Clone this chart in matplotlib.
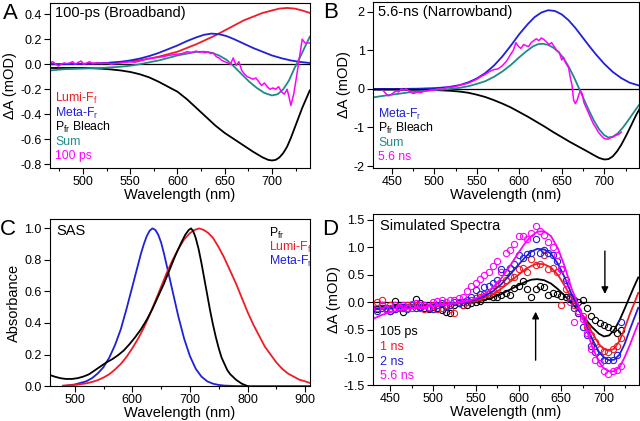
import numpy as np
import matplotlib
matplotlib.use("Agg")
import matplotlib.pyplot as plt

plt.rcParams['font.family'] = ['Liberation Sans', 'DejaVu Sans']
plt.rcParams['axes.unicode_minus'] = False
plt.rcParams['mathtext.fontset'] = 'custom'
plt.rcParams['mathtext.rm'] = 'Liberation Sans'

RED = '#ee1c24'
BLUE = '#2020d8'
TEAL = '#1f8a8a'
MAG = '#ff00ff'
BLK = 'black'

# ---- panel A: 100-ps (broadband) ----
a_lumi_nm = [465, 480, 500, 520, 540, 550, 560, 570, 580, 590, 600, 610, 620, 630, 640, 650, 660, 670,
             680, 690, 700, 708, 716, 724, 732, 740]
a_lumi = [0.0, 0.001, 0.003, 0.008, 0.015, 0.022, 0.032, 0.045, 0.06, 0.08, 0.1, 0.13, 0.16, 0.195, 0.23,
          0.27, 0.31, 0.35, 0.38, 0.41, 0.43, 0.445, 0.45, 0.445, 0.43, 0.41]
a_meta_nm = [465, 480, 500, 510, 520, 530, 540, 550, 560, 570, 580, 590, 600, 610, 620, 628, 636, 644,
             652, 660, 670, 680, 690, 700, 710, 720, 730, 740]
a_meta = [0.0, 0.0, 0.002, 0.004, 0.008, 0.013, 0.02, 0.03, 0.045, 0.065, 0.09, 0.12, 0.15, 0.185, 0.215,
          0.235, 0.245, 0.24, 0.225, 0.2, 0.165, 0.13, 0.1, 0.07, 0.048, 0.03, 0.018, 0.01]
a_pfr_nm = [465, 480, 500, 510, 520, 530, 540, 550, 560, 570, 580, 590, 600, 610, 620, 630, 640, 650, 660,
            670, 680, 690, 696, 700, 704, 708, 712, 716, 720, 724, 728, 732, 736, 740]
a_pfr = [-0.03, -0.03, -0.03, -0.032, -0.036, -0.042, -0.05, -0.062, -0.08, -0.105, -0.14, -0.18, -0.22,
         -0.28, -0.35, -0.42, -0.49, -0.55, -0.6, -0.65, -0.7, -0.745, -0.765, -0.77, -0.765, -0.745, -0.71,
         -0.66, -0.59, -0.51, -0.43, -0.35, -0.28, -0.21]
a_sum_nm = [465, 480, 500, 520, 540, 550, 560, 570, 580, 590, 600, 610, 620, 628, 636, 644, 652, 660, 668,
            676, 684, 692, 700, 706, 712, 718, 724, 730, 735, 740]
a_sum = [-0.05, -0.04, -0.035, -0.03, -0.02, -0.012, 0.0, 0.015, 0.03, 0.05, 0.07, 0.085, 0.098, 0.1, 0.092,
         0.07, 0.035, -0.02, -0.08, -0.14, -0.19, -0.23, -0.25, -0.24, -0.2, -0.13, -0.03, 0.06, 0.14, 0.22]
a_100ps_nm = [465, 468, 471, 474, 477, 480, 483, 486, 489, 492, 495, 498, 501, 504, 507, 510, 515, 520,
              525, 530, 535, 540, 545, 550, 555, 560, 565, 570, 575, 580, 585, 590, 595, 600, 605, 610,
              615, 620, 623, 626, 629, 632, 635, 638, 641, 644, 647, 650, 653, 656, 659, 662, 665, 668,
              671, 674, 677, 680, 683, 686, 689, 692, 695, 698, 701, 704, 707, 710, 713, 716, 718, 720,
              723, 726, 729, 732, 735, 738, 740]
a_100ps = [0.01, 0.02, 0.0, -0.015, 0.0, 0.01, 0.005, 0.01, 0.02, 0.0, 0.015, 0.025, 0.0, 0.01, 0.02, 0.005,
           0.01, 0.005, 0.01, 0.0, 0.005, 0.01, 0.015, 0.02, 0.015, 0.025, 0.035, 0.045, 0.05, 0.055, 0.06,
           0.07, 0.075, 0.08, 0.085, 0.1, 0.095, 0.105, 0.095, 0.1, 0.09, 0.1, 0.085, 0.09, 0.06, 0.05, 0.03,
           0.02, 0.01, 0.0, 0.05, -0.01, 0.02, -0.05, -0.08, -0.1, -0.11, -0.12, -0.11, -0.14, -0.17, -0.15,
           -0.18, -0.2, -0.19, -0.2, -0.18, -0.22, -0.24, -0.2, -0.26, -0.33, -0.24, -0.1, 0.05, 0.2, 0.17,
           0.17, 0.17]

# ---- panel B: 5.6-ns (narrowband) ----
b_meta_nm = [428, 460, 480, 500, 510, 520, 530, 540, 550, 560, 570, 580, 590, 600, 610, 618, 626, 634, 642,
             650, 658, 666, 674, 682, 690, 700, 710, 720, 730, 742]
b_meta = [0.0, 0.0, 0.005, 0.02, 0.035, 0.06, 0.1, 0.17, 0.27, 0.41, 0.6, 0.84, 1.12, 1.42, 1.68, 1.86,
          1.98, 2.04, 2.02, 1.93, 1.78, 1.58, 1.35, 1.12, 0.9, 0.65, 0.44, 0.28, 0.16, 0.08]
b_pfr_nm = [428, 460, 480, 500, 510, 520, 530, 540, 550, 560, 570, 580, 590, 600, 610, 620, 630, 640, 650,
            660, 670, 680, 688, 694, 700, 705, 710, 715, 720, 726, 732, 737, 742]
b_pfr = [-0.02, -0.02, -0.025, -0.03, -0.04, -0.05, -0.07, -0.1, -0.15, -0.21, -0.29, -0.38, -0.48, -0.6,
         -0.72, -0.85, -0.98, -1.12, -1.25, -1.38, -1.5, -1.62, -1.72, -1.79, -1.83, -1.82, -1.75, -1.62,
         -1.45, -1.2, -0.93, -0.7, -0.5]
b_sum_nm = [428, 440, 450, 460, 470, 480, 490, 500, 510, 520, 530, 540, 550, 560, 570, 580, 590, 600, 608,
            616, 622, 628, 634, 640, 646, 652, 658, 664, 670, 676, 682, 688, 694, 700, 705, 710, 716, 722,
            728, 735, 742]
b_sum = [-0.22, -0.18, -0.15, -0.12, -0.09, -0.07, -0.05, -0.03, -0.015, 0.0, 0.03, 0.07, 0.13, 0.2, 0.31,
         0.45, 0.62, 0.82, 0.97, 1.1, 1.16, 1.17, 1.14, 1.07, 0.96, 0.8, 0.58, 0.32, 0.03, -0.27, -0.56,
         -0.83, -1.05, -1.2, -1.26, -1.24, -1.15, -1.0, -0.82, -0.6, -0.38]
b_56ns_nm = [440, 443, 446, 449, 452, 455, 458, 461, 464, 467, 470, 473, 476, 480, 484, 488, 492, 496, 500,
             505, 510, 515, 520, 525, 530, 535, 540, 545, 550, 555, 560, 565, 570, 575, 580, 585, 590, 593,
             596, 599, 602, 605, 608, 611, 614, 617, 620, 623, 626, 629, 632, 635, 638, 641, 644, 647, 650,
             652, 654, 656, 658, 660, 662, 664, 666, 668, 670, 672, 674, 676, 678, 681, 684, 687, 690, 693,
             696, 699, 702, 705, 708, 711, 714, 717, 720]
b_56ns = [-0.05, -0.12, -0.18, -0.15, -0.1, -0.05, -0.08, 0.0, -0.03, 0.0, -0.05, -0.1, -0.12, -0.08, -0.1,
          -0.06, -0.05, -0.03, -0.03, 0.0, -0.02, 0.05, 0.04, 0.06, 0.1, 0.12, 0.15, 0.2, 0.25, 0.32, 0.38,
          0.45, 0.5, 0.52, 0.6, 0.72, 0.9, 1.0, 1.2, 1.1, 1.05, 1.15, 1.12, 1.1, 1.2, 1.25, 1.3, 1.25, 1.32,
          1.28, 1.22, 1.15, 1.2, 1.1, 1.0, 0.95, 0.75, 0.82, 0.7, 0.62, 0.55, 0.3, 0.1, -0.3, -0.38, -0.3,
          -0.15, -0.05, -0.12, -0.35, -0.45, -0.6, -0.75, -0.9, -1.0, -1.12, -1.2, -1.27, -1.3, -1.3, -1.26,
          -1.24, -1.2, -1.18, -1.12]

# ---- panel C: SAS ----
c_pfr_nm = [457, 465, 475, 485, 495, 505, 515, 525, 535, 545, 555, 565, 575, 585, 595, 605, 615, 625, 635,
            645, 655, 665, 675, 685, 692, 698, 702, 706, 710, 715, 720, 725, 730, 735, 740, 745, 750, 755,
            760, 765, 770, 780, 790, 800]
c_pfr = [0.07, 0.06, 0.05, 0.045, 0.045, 0.05, 0.06, 0.075, 0.1, 0.125, 0.15, 0.17, 0.195, 0.225, 0.265,
         0.31, 0.36, 0.42, 0.49, 0.57, 0.65, 0.74, 0.83, 0.91, 0.96, 0.99, 1.0, 0.98, 0.94, 0.87, 0.78, 0.68,
         0.58, 0.48, 0.39, 0.31, 0.24, 0.18, 0.14, 0.1, 0.075, 0.04, 0.015, 0.0]
c_lumi_nm = [480, 490, 500, 510, 520, 530, 540, 550, 560, 570, 580, 590, 600, 610, 620, 630, 640, 650, 660,
             670, 680, 690, 700, 708, 716, 724, 732, 740, 750, 760, 770, 780, 790, 800, 810, 820, 830, 840,
             850, 860, 870, 880, 890, 900, 908]
c_lumi = [0.003, 0.005, 0.007, 0.012, 0.017, 0.026, 0.037, 0.054, 0.075, 0.105, 0.14, 0.185, 0.24, 0.3,
          0.37, 0.45, 0.54, 0.63, 0.72, 0.8, 0.87, 0.93, 0.97, 0.99, 1.0, 0.99, 0.97, 0.94, 0.88, 0.81, 0.73,
          0.65, 0.56, 0.47, 0.39, 0.32, 0.25, 0.2, 0.15, 0.11, 0.08, 0.06, 0.04, 0.03, 0.02]
c_meta_nm = [480, 490, 500, 510, 520, 530, 540, 550, 560, 570, 580, 590, 600, 610, 615, 620, 625, 630, 635,
             640, 645, 650, 655, 660, 665, 670, 680, 690, 700, 710, 720, 730, 740, 750, 760, 780, 908]
c_meta = [0.0, 0.005, 0.01, 0.02, 0.03, 0.05, 0.08, 0.12, 0.18, 0.26, 0.36, 0.49, 0.63, 0.77, 0.84, 0.9,
          0.95, 0.985, 1.0, 0.99, 0.96, 0.91, 0.84, 0.76, 0.68, 0.6, 0.44, 0.3, 0.19, 0.11, 0.06, 0.03,
          0.015, 0.007, 0.003, 0.0, 0.0]

# ---- panel D: simulated spectra ----
d_fit_nm = [430, 440, 450, 460, 470, 480, 490, 500, 510, 520, 530, 540, 550, 560, 570, 580, 590, 600, 608,
            615, 622, 630, 638, 646, 654, 662, 670, 678, 686, 694, 700, 706, 712, 718, 724, 730, 735, 740]
d_fit_105ps = [-0.08, -0.07, -0.065, -0.06, -0.055, -0.05, -0.045, -0.04, -0.035, -0.03, -0.02, -0.01, 0.01,
               0.04, 0.09, 0.15, 0.23, 0.31, 0.37, 0.41, 0.42, 0.4, 0.34, 0.24, 0.12, -0.02, -0.14, -0.3,
               -0.45, -0.57, -0.62, -0.6, -0.5, -0.33, -0.12, 0.1, 0.28, 0.45]
d_fit_1ns = [-0.12, -0.1, -0.09, -0.08, -0.07, -0.06, -0.055, -0.05, -0.04, -0.03, -0.015, 0.0, 0.03, 0.08,
             0.15, 0.25, 0.37, 0.5, 0.6, 0.66, 0.7, 0.69, 0.63, 0.5, 0.3, 0.08, -0.1, -0.32, -0.55, -0.76,
             -0.85, -0.88, -0.84, -0.7, -0.48, -0.22, -0.03, 0.17]
d_fit_2ns = [-0.13, -0.12, -0.11, -0.1, -0.09, -0.08, -0.065, -0.05, -0.04, -0.03, -0.01, 0.01, 0.05, 0.11,
             0.2, 0.33, 0.5, 0.68, 0.82, 0.92, 0.97, 0.96, 0.88, 0.7, 0.45, 0.15, -0.08, -0.37, -0.66, -0.9,
             -1.0, -1.05, -1.04, -0.95, -0.76, -0.5, -0.3, -0.1]
d_fit_56ns = [-0.3, -0.23, -0.18, -0.15, -0.12, -0.1, -0.08, -0.07, -0.05, -0.03, -0.01, 0.02, 0.07, 0.15,
              0.27, 0.44, 0.66, 0.9, 1.08, 1.2, 1.28, 1.29, 1.2, 0.98, 0.65, 0.25, -0.05, -0.42, -0.8, -1.08,
              -1.2, -1.25, -1.25, -1.18, -1.0, -0.78, -0.58, -0.38]

d_pts_nm = list(range(435, 725, 5))
d_pts_105ps = [-0.12, -0.05, -0.1, -0.15, 0.03, -0.08, -0.18, -0.1, -0.05, 0.06, -0.02, -0.1, -0.12, -0.08,
               -0.1, -0.14, -0.17, -0.2, -0.05, -0.02, -0.04, -0.05, -0.02, 0.0, 0.03, 0.1, 0.12, 0.1, 0.1,
               0.14, 0.16, 0.14, 0.26, 0.3, 0.38, 0.24, 0.1, 0.24, 0.3, 0.28, 0.14, 0.16, 0.15, 0.12, 0.1,
               0.08, 0.05, 0.0, 0.05, -0.1, -0.25, -0.33, -0.38, -0.42, -0.45, -0.48, -0.55, -0.5]
d_pts_1ns = [0.0, 0.05, -0.1, -0.05, -0.12, -0.08, -0.1, -0.05, -0.1, -0.05, -0.1, -0.12, -0.08, -0.05,
             -0.12, -0.1, -0.05, -0.12, -0.2, 0.0, -0.05, 0.0, 0.05, 0.08, 0.1, 0.15, 0.15, 0.2, 0.25, 0.35,
             0.4, 0.48, 0.45, 0.6, 0.62, 0.55, 0.78, 0.68, 0.7, 0.85, 0.6, 0.62, 0.55, -0.05, 0.25, 0.1,
             -0.05, -0.2, -0.25, -0.45, -0.6, -0.72, -0.85, -0.88, -0.9, -0.85, -0.8, -0.65]
d_pts_2ns = [-0.15, -0.1, -0.12, -0.15, -0.12, -0.1, -0.08, -0.12, -0.05, -0.1, -0.08, -0.05, -0.1, -0.12,
             -0.05, -0.02, -0.08, -0.05, 0.0, -0.02, 0.0, 0.05, 0.1, 0.22, 0.15, 0.28, 0.3, 0.35, 0.4, 0.6,
             0.55, 0.62, 0.7, 0.85, 0.8, 0.88, 0.9, 1.15, 0.9, 0.95, 0.9, 0.85, 0.75, 0.6, 0.4, 0.1, -0.1,
             -0.2, -0.45, -0.6, -0.8, -0.9, -1.0, -1.05, -1.05, -1.05, -0.95, -0.35]
d_pts_56ns = [-0.1, -0.05, -0.12, -0.1, -0.05, -0.08, -0.05, -0.1, -0.03, -0.02, -0.05, -0.05, -0.08, 0.0,
              0.02, 0.05, 0.0, 0.05, 0.05, 0.08, 0.1, 0.2, 0.3, 0.35, 0.42, 0.5, 0.55, 0.65, 0.75, 0.55, 0.9,
              0.95, 1.05, 1.2, 1.2, 1.15, 1.25, 1.38, 1.3, 1.22, 1.1, 1.0, 0.85, 0.6, 0.35, 0.0, -0.35, -0.15,
              -0.3, -0.55, -0.85, -1.05, -1.1, -1.25, -1.3, -1.25, -1.22, -1.15]

lumi_lbl = 'Lumi-F$_\\mathregular{f}$'
meta_lbl = 'Meta-F$_\\mathregular{r}$'
pfr_lbl = 'P$_\\mathregular{fr}$'

fig = plt.figure(figsize=(6.4, 4.21), dpi=100)
axA = fig.add_axes([0.078, 0.601, 0.406, 0.392])
axB = fig.add_axes([0.583, 0.601, 0.4156, 0.394])
axC = fig.add_axes([0.078, 0.083, 0.406, 0.397])
axD = fig.add_axes([0.583, 0.0855, 0.4156, 0.406])


def style(ax, xmaj, xlim, ylim, yticks, yfmt, ylabel):
    step = xmaj[1] - xmaj[0]
    ax.set_xticks(xmaj)
    ax.set_xticks([x + step / 2 for x in xmaj] + [xmaj[0] - step / 2], minor=True)
    ax.set_xlim(*xlim)
    ax.set_ylim(*ylim)
    ax.set_yticks(yticks)
    ax.set_yticklabels([yfmt.format(v) for v in yticks])
    ax.tick_params(which='both', direction='out', top=False, right=False, labelsize=9, pad=2)
    ax.tick_params(which='major', length=4, width=0.8)
    ax.tick_params(which='minor', length=2.5, width=0.8)
    for s in ax.spines.values():
        s.set_linewidth(0.8)
    ax.set_xlabel('Wavelength (nm)', fontsize=10.5, labelpad=0)
    ax.set_ylabel(ylabel, fontsize=10.5, labelpad=2)


def legend(ax, items, x, ys, size=9):
    for (txt, col), y in zip(items, ys):
        ax.text(x, y, txt, color=col, fontsize=size, transform=ax.transAxes, va='center', ha='left')


lw = 1.3
# A
axA.axhline(0, color='black', lw=0.9)
axA.plot(a_lumi_nm, a_lumi, color=RED, lw=lw)
axA.plot(a_meta_nm, a_meta, color=BLUE, lw=lw)
axA.plot(a_pfr_nm, a_pfr, color=BLK, lw=lw)
axA.plot(a_sum_nm, a_sum, color=TEAL, lw=lw)
axA.plot(a_100ps_nm, a_100ps, color=MAG, lw=1.1)
style(axA, [500, 550, 600, 650, 700], (465, 740), (-0.83, 0.49),
      [-0.8, -0.6, -0.4, -0.2, 0.0, 0.2, 0.4], '{:.1f}', '\u0394A (mOD)')
axA.text(0.02, 0.94, '100-ps (Broadband)', transform=axA.transAxes, fontsize=10.5, va='center')
legend(axA, [(lumi_lbl, RED), (meta_lbl, BLUE), (pfr_lbl + ' Bleach', BLK), ('Sum', TEAL), ('100 ps', MAG)],
       0.02, [0.42, 0.333, 0.246, 0.16, 0.074], size=8.8)

# B
axB.axhline(0, color='black', lw=0.9)
axB.plot(b_meta_nm, b_meta, color=BLUE, lw=lw)
axB.plot(b_pfr_nm, b_pfr, color=BLK, lw=lw)
axB.plot(b_sum_nm, b_sum, color=TEAL, lw=lw)
axB.plot(b_56ns_nm, b_56ns, color=MAG, lw=1.1)
style(axB, [450, 500, 550, 600, 650, 700], (428, 741), (-2.05, 2.25),
      [-2, -1, 0, 1, 2], '{:d}', '\u0394A (mOD)')
axB.text(0.02, 0.94, '5.6-ns (Narrowband)', transform=axB.transAxes, fontsize=10.5, va='center')
legend(axB, [(meta_lbl, BLUE), (pfr_lbl + ' Bleach', BLK), ('Sum', TEAL), ('5.6 ns', MAG)],
       0.02, [0.325, 0.24, 0.152, 0.066], size=8.8)

# C
axC.plot(c_meta_nm, c_meta, color=BLUE, lw=lw)
axC.plot(c_lumi_nm, c_lumi, color=RED, lw=lw)
axC.plot(c_pfr_nm, c_pfr, color=BLK, lw=lw)
style(axC, [500, 600, 700, 800, 900], (457, 908), (0.0, 1.06),
      [0.0, 0.2, 0.4, 0.6, 0.8, 1.0], '{:.1f}', 'Absorbance')
axC.text(0.025, 0.93, 'SAS', transform=axC.transAxes, fontsize=10.5, va='center')
legend(axC, [(pfr_lbl, BLK), (lumi_lbl, RED), (meta_lbl, BLUE)], 0.845, [0.915, 0.83, 0.745], size=8.8)

# D
axD.axhline(0, color='black', lw=0.9)
for vals, pts, col in [(d_fit_105ps, d_pts_105ps, BLK), (d_fit_1ns, d_pts_1ns, RED),
                       (d_fit_2ns, d_pts_2ns, BLUE), (d_fit_56ns, d_pts_56ns, MAG)]:
    axD.plot(d_pts_nm, pts, 'o', mfc='none', mec=col, ms=4.5, mew=0.8)
    axD.plot(d_fit_nm, vals, color=col, lw=lw)
axD.annotate('', xy=(701, 0.1), xytext=(701, 0.98),
             arrowprops=dict(arrowstyle='-|>', color='black', lw=1.0, mutation_scale=10))
axD.annotate('', xy=(620, -0.12), xytext=(620, -1.1),
             arrowprops=dict(arrowstyle='-|>', color='black', lw=1.0, mutation_scale=10))
style(axD, [450, 500, 550, 600, 650, 700], (430, 741), (-1.5, 1.6),
      [-1.5, -1.0, -0.5, 0.0, 0.5, 1.0, 1.5], '{:.1f}', '\u0394A (mOD)')
axD.text(0.025, 0.93, 'Simulated Spectra', transform=axD.transAxes, fontsize=10.5, va='center')
legend(axD, [('105 ps', BLK), ('1 ns', RED), ('2 ns', BLUE), ('5.6 ns', MAG)],
       0.025, [0.312, 0.224, 0.137, 0.05])

for lbl, x, y in [('A', 0.005, 0.967), ('B', 0.505, 0.97), ('C', 0.0, 0.455), ('D', 0.503, 0.455)]:
    fig.text(x, y, lbl, fontsize=16, va='center', ha='left')

fig.savefig('out.png', dpi=100)
